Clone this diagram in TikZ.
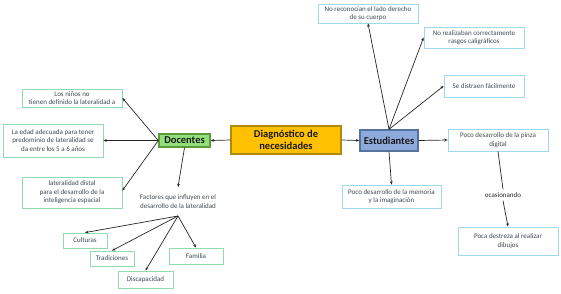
\documentclass[tikz,border=0pt]{standalone}
\usepackage{fontspec}
\setmainfont{Carlito}
\usetikzlibrary{arrows.meta,calc}
\definecolor{goldf}{HTML}{FFC000}
\definecolor{goldd}{HTML}{B08A10}
\definecolor{greenf}{HTML}{92E07A}
\definecolor{greend}{HTML}{5E9A3A}
\definecolor{bluef}{HTML}{8EA9DB}
\definecolor{blued}{HTML}{56729F}
\definecolor{lgreen}{HTML}{8FDBAE}
\definecolor{lblue}{HTML}{9ED8EE}
\definecolor{txt}{HTML}{404A55}
\definecolor{arrc}{HTML}{262626}
\tikzset{
  smalltxt/.style={font=\fontsize{7}{8.6}\selectfont, text=txt, align=center},
  lbox/.style={smalltxt, draw=lgreen, line width=0.8pt, fill=white, inner sep=1pt},
  rbox/.style={smalltxt, draw=lblue, line width=0.8pt, fill=white, inner sep=1pt},
  mainbox/.style={font=\bfseries\fontsize{10.5}{12}\selectfont, text=black!90, align=center, line width=1.4pt, inner sep=1pt},
  arr/.style={-{Stealth[length=3.4pt,width=2.8pt]}, line width=0.7pt, draw=arrc},
  plain/.style={line width=0.7pt, draw=arrc}
}
\begin{document}
\begin{tikzpicture}[x=1pt,y=-1pt]
\useasboundingbox (0,0) rectangle (561,293);
% main nodes
\node[mainbox, fill=goldf, draw=goldd, minimum width=110pt, minimum height=28pt] (diag) at (286,140) {Diagnóstico de\\necesidades};
\node[mainbox, fill=greenf, draw=greend, minimum width=51pt, minimum height=13pt] (doc) at (184.5,140.5) {Docentes};
\node[mainbox, fill=bluef, draw=blued, minimum width=58pt, minimum height=21pt] (est) at (389,140.5) {Estudiantes};
% left boxes
\node[lbox, minimum width=100pt, minimum height=18pt] (l1) at (72,98) {Los niños no\\tienen definido la lateralidad a};
\node[lbox, minimum width=100pt, minimum height=33pt] (l2) at (53,140.5) {La edad adecuada para tener\\predominio de lateralidad se\\da entre los 5 a 6 años};
\node[lbox, minimum width=100pt, minimum height=31pt] (l3) at (72,192.5) {lateralidad distal\\para el desarrollo de la\\inteligencia espacial};
\node[smalltxt, inner xsep=2pt, inner ysep=7.5pt] (fac) at (178,201.5) {Factores que influyen en el\\desarrollo de la lateralidad};
\node[lbox, minimum width=44pt, minimum height=15pt] (cult) at (85,240.5) {Culturas};
\node[lbox, minimum width=44pt, minimum height=15pt] (trad) at (112,258.5) {Tradiciones};
\node[lbox, minimum width=55pt, minimum height=17pt] (disc) at (145.5,279.5) {Discapacidad};
\node[lbox, minimum width=54pt, minimum height=16pt] (fam) at (196,256) {Familia};
% right boxes
\node[rbox, minimum width=100pt, minimum height=19pt] (r1) at (368,13.5) {No reconocían el lado derecho\\de su cuerpo};
\node[rbox, minimum width=100pt, minimum height=21pt] (r2) at (474,37.5) {No realizaban correctamente\\rasgos caligráficos};
\node[rbox, minimum width=80pt, minimum height=22pt] (r3) at (484,86) {Se distraen fácilmente};
\node[rbox, minimum width=100pt, minimum height=22pt] (pinza) at (498,140) {Poco desarrollo de la pinza\\digital};
\node[rbox, minimum width=99pt, minimum height=23pt] (mem) at (391.5,196.5) {Poco desarrollo de la memoria\\y la imaginación};
\node[smalltxt, text=black!85, inner sep=3pt] (ocas) at (503,195) {ocasionando};
\node[rbox, minimum width=100pt, minimum height=28pt] (dest) at (508,241) {Poca destreza al realizar\\dibujos};
% connectors
\draw[arr] (diag.west) -- (doc.east);
\draw[arr] (diag.east) -- (est.west);
\draw[arr] (doc.west) -- (l1.east);
\draw[arr] (doc.west) -- (l2.east);
\draw[arr] (doc.west) -- ($(l3.east)+(0,-2)$);
\draw[arr] (doc.south) -- (fac.north);
\draw[arr] (fac.south) -- (cult.north);
\draw[arr] (fac.south) -- (trad.north);
\draw[arr] (fac.south) -- (disc.north);
\draw[arr] (fac.south) -- (fam.north);
\draw[arr] (est.north) -- (r1.south);
\draw[arr] (est.north) -- (r2.west);
\draw[arr] (est.north) -- (r3.west);
\draw[arr] (est.east) -- (pinza.west);
\draw[arr] (est.south) -- (mem.north);
\draw[plain] (pinza.south) -- (ocas.north);
\draw[arr] (ocas.south) -- (dest.north);
\end{tikzpicture}
\end{document}
